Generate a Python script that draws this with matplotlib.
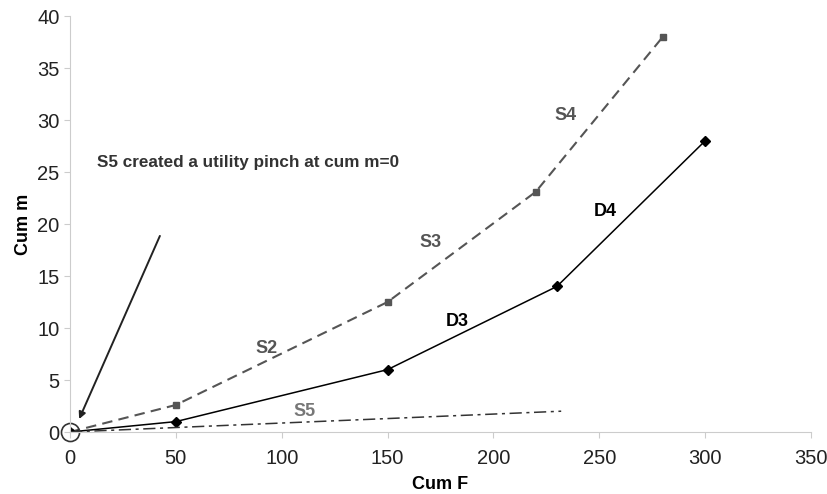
import matplotlib
matplotlib.use("Agg")
import matplotlib.pyplot as plt

plt.rcParams['font.family'] = ['Liberation Sans', 'DejaVu Sans']

s_x = [0, 50, 150, 220, 280]
s_y = [0, 2.6, 12.5, 23.1, 38]
d_x = [0, 50, 150, 230, 300]
d_y = [0, 1, 6, 14, 28]
s5_x = [0, 232]
s5_y = [0, 2.0]

labels = [("S2", 93, 8.0, "#555555"), ("S3", 170.5, 18.2, "#555555"),
          ("S4", 234, 30.4, "#555555"), ("S5", 111, 2.0, "#777777"),
          ("D3", 183, 10.6, "black"), ("D4", 253, 21.2, "black")]

fig = plt.figure(figsize=(8.28, 4.94), dpi=100)
ax = fig.add_axes([0.0845, 0.1255, 0.895, 0.842])

ax.plot(s_x, s_y, linestyle=(0, (5, 3)), color="#555555", lw=1.5,
        marker="s", markersize=5, markerfacecolor="#555555", markeredgecolor="#555555")
ax.plot(d_x, d_y, linestyle="-", color="black", lw=1.1,
        marker="D", markersize=5, markerfacecolor="black")
ax.plot(s5_x, s5_y, linestyle=(0, (8, 3, 2, 3)), color="#333333", lw=1.1)
ax.plot([0], [0], marker="o", markersize=13, markerfacecolor="none",
        markeredgecolor="#333333", markeredgewidth=1.2, clip_on=False)

for t, x, y, c in labels:
    ax.text(x, y, t, color=c, fontsize=13, fontweight="bold", ha="center", va="center")

ax.annotate("", xy=(3.8, 1.0), xytext=(43, 19.1),
            arrowprops=dict(arrowstyle="-|>", color="#222222", lw=1.4, mutation_scale=10))
ax.text(13, 25.9, "S5 created a utility pinch at cum m=0", fontsize=12.3,
        fontweight="bold", color="#333333", ha="left", va="center")

ax.set_xlim(0, 350)
ax.set_ylim(0, 40)
ax.set_xticks(range(0, 351, 50))
ax.set_yticks(range(0, 41, 5))
ax.tick_params(labelsize=14.5, colors="#222222", length=4, color="#cccccc")
ax.tick_params(axis="x", pad=8)
for sp in ["top", "right"]:
    ax.spines[sp].set_visible(False)
for sp in ["left", "bottom"]:
    ax.spines[sp].set_color("#cccccc")
ax.set_xlabel("Cum F", fontsize=13, fontweight="bold", labelpad=6)
ax.set_ylabel("Cum m", fontsize=13, fontweight="bold", labelpad=4)

fig.savefig("out.png", dpi=100)
